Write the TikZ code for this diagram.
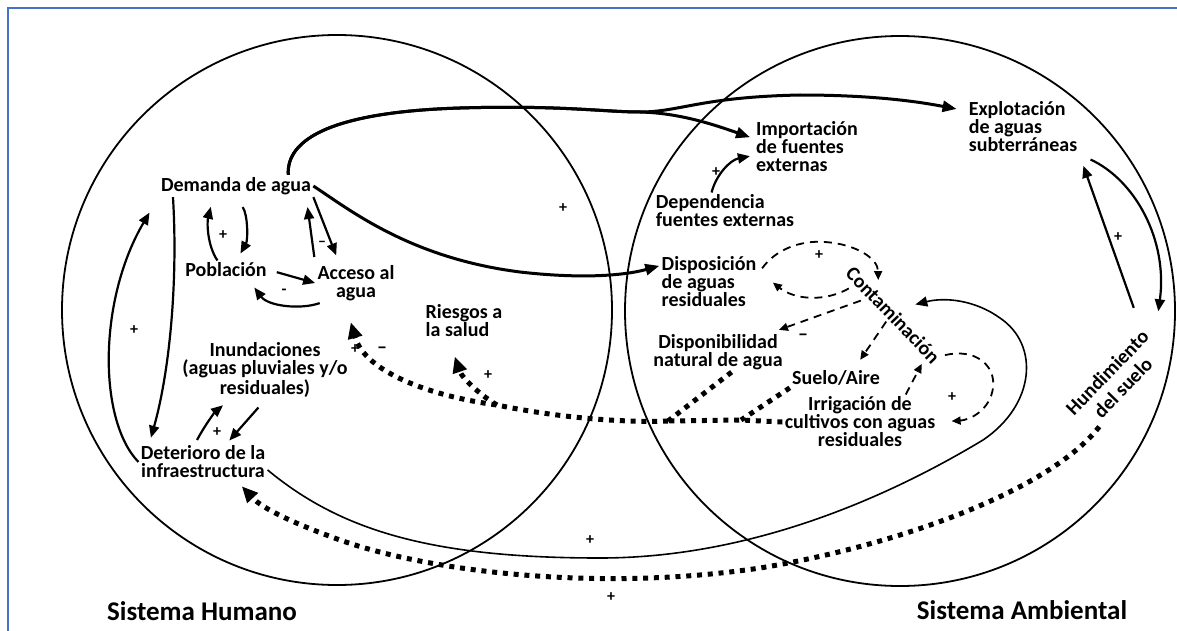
\documentclass[tikz,border=0pt]{standalone}
\usepackage{fontspec}
\setmainfont{Carlito}
\usepackage{tikz}
\usetikzlibrary{arrows.meta}
\definecolor{framecol}{RGB}{68,114,196}
\tikzset{
	var/.style={font=\fontsize{10}{9}\selectfont\bfseries, inner sep=1pt, align=center},
	varl/.style={var, align=left},
	sgn/.style={font=\fontsize{8}{8}\selectfont\bfseries, inner sep=0pt},
	sysname/.style={font=\fontsize{13.5}{14}\selectfont\bfseries, inner sep=0pt},
	sys/.style={line width=0.9pt},
	link/.style={line width=1.1pt, -{Triangle[length=6pt,width=5pt]}},
	biglink/.style={line width=1.5pt, -{Triangle[length=7pt,width=5.5pt]}},
	thinlink/.style={line width=0.8pt, -{Triangle[length=6pt,width=5pt]}},
	dashlink/.style={line width=0.9pt, dash pattern=on 4pt off 3pt, -{Triangle[length=4.5pt,width=4pt]}},
	dotline/.style={line width=2.5pt, dash pattern=on 2.5pt off 2.9pt},
	dotlink/.style={dotline, -{Triangle[length=8pt,width=7pt]}}
}
\begin{document}
\begin{tikzpicture}[x=0.5pt,y=-0.5pt]
	\useasboundingbox (0,0) rectangle (1177,631);
	\fill[white] (0,0) rectangle (1177,631);
	\draw[framecol,line width=1.2pt] (8,660)--(8,8)--(1190,8);
	\draw[sys] (337,310) circle[radius=137.5pt];
	\draw[sys] (900,311) circle[radius=137.5pt];

	\node[var] (dem) at (236,186) {Demanda de agua};
	\node[var] (pob) at (226,270) {Población};
	\node[var] (acc) at (356,283) {Acceso al\\agua};
	\node[varl] (rie) at (464,321) {Riesgos a\\la salud};
	\node[var] (inu) at (265,370) {Inundaciones\\(aguas pluviales y/o\\residuales)};
	\node[var] (det) at (203,462) {Deterioro de la\\infraestructura};
	\node[varl] (imp) at (807,147) {Importación\\de fuentes\\externas};
	\node[varl] (exp) at (1023,127) {Explotación\\de aguas\\subterráneas};
	\node[varl] (dep) at (725,211) {Dependencia\\fuentes externas};
	\node[varl] (dis) at (709,282) {Disposición\\de aguas\\residuales};
	\node[var,rotate=-46] (con) at (893,315) {Contaminación};
	\node[var] (dpn) at (718,352) {Disponibilidad\\natural de agua};
	\node[var] (sue) at (836,378) {Suelo/Aire};
	\node[var] (irr) at (860,422) {Irrigación de\\cultivos con aguas\\residuales};
	\node[var,rotate=46,font=\fontsize{10}{11}\selectfont\bfseries] (hun) at (1115,380) {Hundimiento\\del suelo};
	\node[sysname] (hum) at (202,611) {Sistema Humano};
	\node[sysname] (amb) at (1022,610) {Sistema Ambiental};

	\draw[biglink,shorten >=5pt] (dem.12) .. controls (286,140) and (330,112) .. (460,108) .. controls (560,105) and (605,112) .. (640,112) .. controls (680,112) and (700,97) .. (800,95) .. controls (880,95) and (925,103) .. (exp.164);
	\draw[biglink,shorten >=2pt] (dem.12) .. controls (286,140) and (330,112) .. (460,108) .. controls (560,105) and (605,112) .. (640,112) .. controls (680,113) and (715,125) .. (imp.171);
	\draw[biglink] (dem.east) .. controls (350,210) and (410,258) .. (520,272) .. controls (590,280) and (630,274) .. (dis.162);
	\draw[link,shorten >=4pt] (dem.south east) -- (acc.130);
	\draw[link,shorten >=5pt,shorten <=3pt] (acc.north west) -- (dem.-9);
	\draw[link,shorten >=4pt,shorten <=6pt] (dem.south) .. controls (248,215) and (248,240) .. (pob.42);
	\draw[link,shorten >=5pt] (pob.132) .. controls (207,245) and (207,222) .. (dem.206);
	\draw[link,shorten <=4pt] (pob.east) -- (acc.west);
	\draw[link,shorten >=5pt] (acc.209) .. controls (300,310) and (268,306) .. (pob.-23);
	\draw[link,shorten >=3pt] (dem.190) .. controls (178,280) and (170,370) .. (det.161);
	\draw[link,shorten >=9pt] (det.west) .. controls (98,420) and (98,300) .. (dem.south west);
	\draw[link,shorten >=2pt,shorten <=5pt] (inu.south) -- (det.38);
	\draw[link,shorten >=4pt,shorten <=2pt] (det.113) .. controls (205,425) and (215,412) .. (inu.220);
	\draw[thinlink,shorten >=8pt] (det.-7) .. controls (340,530) and (430,558) .. (600,558) .. controls (760,558) and (900,490) .. (983,440) .. controls (1035,405) and (1040,345) .. (1000,318) .. controls (975,300) and (945,297) .. (con.north);
	\draw[dotlink,shorten >=4pt,shorten <=3pt] (hun.208) .. controls (1050,490) and (900,545) .. (760,568) .. controls (600,592) and (430,572) .. (340,540) .. controls (290,522) and (262,508) .. (det.-29);

	\coordinate (j1) at (741,420);
	\coordinate (j2) at (668,421);
	\coordinate (jr) at (497,405);
	\draw[dotline] (irr.west) -- (j1) -- (j2);
	\draw[dotline] (sue.south west) -- (j1);
	\draw[dotline] (dpn.-56) -- (j2);
	\draw[dotlink,shorten >=10pt] (j2) .. controls (610,423) and (545,415) .. (jr) .. controls (430,396) and (365,372) .. (acc.242);
	\draw[dotlink,shorten >=9pt] (jr) .. controls (480,395) and (462,378) .. (rie.231);

	\draw[dashlink,shorten <=3pt,shorten >=3pt] (dis.10) .. controls (775,250) and (800,240) .. (825,242) .. controls (855,244) and (878,258) .. (con.163);
	\draw[dashlink,shorten >=9pt,shorten <=2pt] (con.191) .. controls (825,302) and (795,300) .. (dis.12);
	\draw[dashlink,shorten >=3pt,shorten <=2pt] (con.197) -- (dpn.20);
	\draw[dashlink,shorten >=5pt] (con.south) -- (sue.28);
	\draw[dashlink,shorten >=2pt] (irr.31) -- (con.-10);
	\draw[dashlink,shorten >=7pt] (con.north east) .. controls (975,348) and (996,365) .. (993,388) .. controls (990,410) and (970,420) .. (irr.east);

	\draw[link,shorten >=2pt] (dep.126) .. controls (716,175) and (730,160) .. (imp.189);
	\draw[link,shorten >=6pt,shorten <=9pt] (hun.north east) -- (exp.-26);
	\draw[link,shorten >=14pt,shorten <=6pt] (exp.south east) .. controls (1135,180) and (1168,240) .. (hun.east);

	\node[sgn] (s1) at (563,208) {+};
	\node[sgn] (s2) at (223,235) {+};
	\node[sgn] (s3) at (322,244) {–};
	\node[sgn] (s4) at (284,292) {-};
	\node[sgn] (s5) at (134,330) {+};
	\node[sgn] (s6) at (217,432) {+};
	\node[sgn] (s7) at (355,349) {+};
	\node[sgn,font=\fontsize{10}{10}\selectfont\bfseries] (s8) at (382,350) {–};
	\node[sgn] (s9) at (488,375) {+};
	\node[sgn] (s10) at (819,255) {+};
	\node[sgn] (s11) at (716,172) {+};
	\node[sgn] (s12) at (1118,237) {+};
	\node[sgn,font=\fontsize{10}{10}\selectfont\bfseries] (s13) at (803,337) {–};
	\node[sgn] (s14) at (952,397) {+};
	\node[sgn] (s15) at (590,540) {+};
	\node[sgn] (s16) at (611,597) {+};
\end{tikzpicture}
\end{document}
